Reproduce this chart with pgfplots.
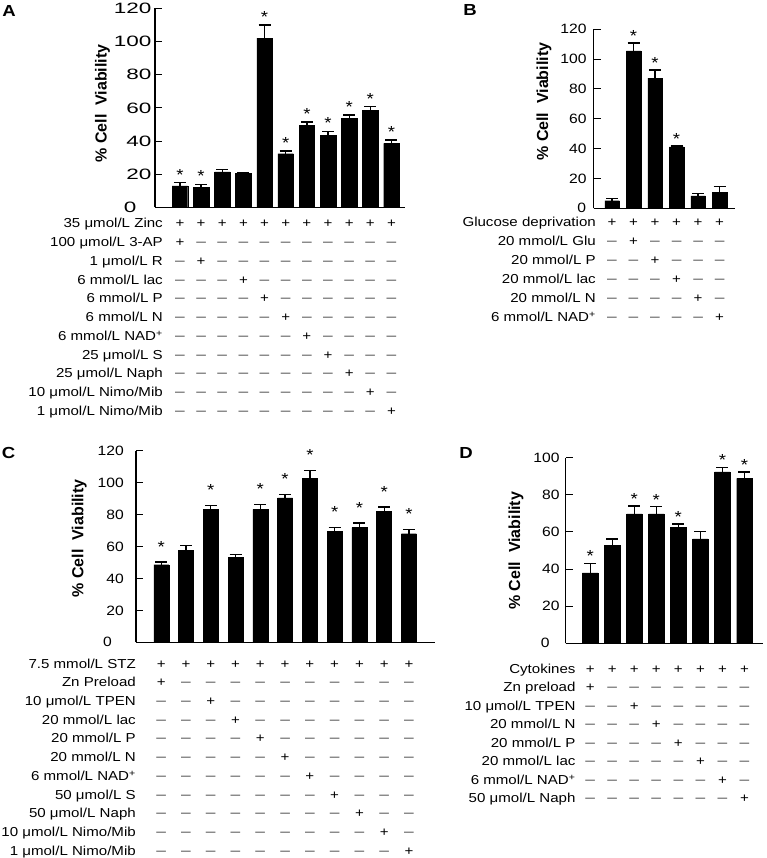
\documentclass[border=0pt]{standalone}
\usepackage{fontspec}
\setmainfont{Liberation Sans}[FakeStretch=1.16]
\newfontfamily\plainsans{Liberation Sans}
\newfontfamily\widesans{Liberation Sans}[FakeStretch=1.5]
\usepackage{pgfplots}
\pgfplotsset{compat=1.18}

\pgfplotstableread{
x y e
1 13.0 2.0
2 12.3 1.7
3 21.4 1.4
4 20.6 0.5
5 102.0 7.8
6 32.4 1.6
7 49.5 2.0
8 43.5 2.4
9 53.7 2.0
10 58.5 2.2
11 38.6 2.0
}\dataA
\pgfplotstableread{
x y e
1 5.0 1.6
2 105.5 5.2
3 87.2 5.6
4 41.1 0.7
5 8.2 1.8
6 10.7 3.7
}\dataB
\pgfplotstableread{
x y e
1 48.6 1.7
2 57.6 2.9
3 83.3 2.5
4 53.4 1.7
5 83.3 2.9
6 90.4 2.3
7 102.9 4.8
8 69.3 2.7
9 71.8 2.9
10 82.2 2.5
11 68.0 2.7
}\dataC
\pgfplotstableread{
x y e
1 38.0 5.1
2 52.6 3.7
3 69.8 4.1
4 69.8 3.8
5 62.6 1.6
6 56.2 4.1
7 92.4 2.4
8 88.8 3.6
}\dataD

\pgfplotsset{
  panel/.style={
    scale only axis, axis lines*=left,
    axis line style={-, line width=1.2pt, black},
    ymin=0, xtick=\empty, tick align=inside, major tick length=7pt,
    ytick style={line width=1.1pt, black},
    /pgf/number format/assume math mode=true,
    yticklabel style={font=\fontsize{13.5}{14}\selectfont, inner sep=0pt},
    extra y ticks={0},
    clip=false,
  },
  zeroshift/.style={extra y tick style={grid=none, yticklabel style={xshift=#1}}},
  bars/.style={ybar, fill=black, draw=black, line width=0.4pt,
    error bars/y dir=plus, error bars/y explicit,
    error bars/error bar style={line width=1.3pt, black},
    error bars/error mark options={rotate=90, mark size=6pt, line width=1.5pt, black}},
  stars/.style={draw=none, mark=none, nodes near coords={*},
    every node near coord/.style={anchor=south, inner sep=0pt, yshift=#1,
      font=\fontsize{16}{17}\selectfont}},
}

\newcommand\rowfont{\fontsize{13}{14}\selectfont}
\newcommand\m{\textcolor{black!65}{\fontsize{15}{14}\selectfont –}}
% one row of the +/- table: row index, label, column of the + (0 = all +)
\newcommand\srow[3]{%
  \pgfmathsetmacro\yy{-(\rbase+#1*\rstep)}
  \node[anchor=base east, inner sep=0pt, font=\rowfont] at (\rx pt,\yy pt) {#2};
  \coordinate (tmp) at (0,\yy pt);
  \foreach \c in {1,...,\ncol} {%
    \ifnum#3=0 \def\s{+}\else\ifnum\c=#3\relax\def\s{+}\else\def\s{\m}\fi\fi
    \node[anchor=base, inner sep=0pt, font=\rowfont] at (\rp\c |- tmp) {\s};
  }%
}
\newcommand\ylab[2]{\node[rotate=90, inner sep=0pt, font=\plainsans\bfseries\fontsize{16}{18}\selectfont]
  at (#1pt,-#2pt) {\% Cell\hspace{0.55em}Viability};}
\newcommand\plab[3]{\node[inner sep=0pt, font=\bfseries\fontsize{16}{18}\selectfont] at (#1pt,-#2pt) {#3};}

\begin{document}
\begin{tikzpicture}
\path[use as bounding box] (0,0) rectangle (766pt,-858pt);

% ---------- A ----------
\begin{axis}[panel, at={(155pt,-207.5pt)}, anchor=south west,
  width=250pt, height=199.2pt, xmin=-0.18, xmax=11.64, ymax=120,
  ytick={20,40,...,120},
  yticklabel style={font=\widesans\fontsize{15}{16}\selectfont, xshift=-3.5pt},
  zeroshift=-15pt]
\addplot[bars, bar width=15.5pt] table[x=x, y=y, y error=e] {\dataA};
\addplot[stars=2.3pt] coordinates {(1,15) (2,14) (5,109.8) (6,34) (7,51.5) (8,45.9) (9,55.7) (10,60.7) (11,40.6)};
\pgfplotsinvokeforeach{1,...,11}{\coordinate (A#1) at (axis cs:#1,0);}
\end{axis}
\plab{9}{11.5}{A}
\ylab{102.5}{103.5}
\def\rp{A}\def\rx{163}\def\rbase{228}\def\rstep{18.74}\def\ncol{11}
\srow{0}{35 μmol/L Zinc}{0}
\srow{1}{100 μmol/L 3-AP}{1}
\srow{2}{1 μmol/L R}{2}
\srow{3}{6 mmol/L lac}{4}
\srow{4}{6 mmol/L P}{5}
\srow{5}{6 mmol/L N}{6}
\srow{6}{6 mmol/L NAD\textsuperscript{+}}{7}
\srow{7}{25 μmol/L S}{8}
\srow{8}{25 μmol/L Naph}{9}
\srow{9}{10 μmol/L Nimo/Mib}{10}
\srow{10}{1 μmol/L Nimo/Mib}{11}

% ---------- B ----------
\begin{axis}[panel, at={(593.7pt,-208.2pt)}, anchor=south west,
  width=141pt, height=178.9pt, xmin=0.15, xmax=6.7, ymax=120,
  ytick={20,40,...,120}, yticklabel style={xshift=-7pt}, zeroshift=-0.5pt]
\addplot[bars, bar width=14.5pt] table[x=x, y=y, y error=e] {\dataB};
\addplot[stars=1pt] coordinates {(2,110.7) (3,92.8) (4,41.8)};
\pgfplotsinvokeforeach{1,...,6}{\coordinate (B#1) at (axis cs:#1,0);}
\end{axis}
\plab{470}{10.5}{B}
\ylab{544}{101.7}
\def\rp{B}\def\rx{596}\def\rbase{227}\def\rstep{18.88}\def\ncol{6}
\srow{0}{Glucose deprivation}{0}
\srow{1}{20 mmol/L Glu}{2}
\srow{2}{20 mmol/L P}{3}
\srow{3}{20 mmol/L lac}{4}
\srow{4}{20 mmol/L N}{5}
\srow{5}{6 mmol/L NAD\textsuperscript{+}}{6}

% ---------- C ----------
\begin{axis}[panel, at={(136pt,-642.3pt)}, anchor=south west,
  width=298.7pt, height=191.6pt, xmin=-0.02, xmax=12.04, ymax=120,
  ytick={20,40,...,120}, yticklabel style={xshift=-12pt}, zeroshift=-12pt]
\addplot[bars, bar width=15pt] table[x=x, y=y, y error=e] {\dataC};
\addplot[stars=9.7pt] coordinates {(1,50.3) (3,85.8) (5,86.2) (6,92.7) (7,107.7) (8,72) (9,74.7) (10,84.7) (11,70.7)};
\pgfplotsinvokeforeach{1,...,11}{\coordinate (C#1) at (axis cs:#1,0);}
\end{axis}
\plab{8.5}{452.5}{C}
\ylab{79.2}{538.3}
\def\rp{C}\def\rx{136}\def\rbase{668}\def\rstep{18.74}\def\ncol{11}
\srow{0}{7.5 mmol/L STZ}{0}
\srow{1}{Zn Preload}{1}
\srow{2}{10 μmol/L TPEN}{3}
\srow{3}{20 mmol/L lac}{4}
\srow{4}{20 mmol/L P}{5}
\srow{5}{20 mmol/L N}{6}
\srow{6}{6 mmol/L NAD\textsuperscript{+}}{7}
\srow{7}{50 μmol/L S}{8}
\srow{8}{50 μmol/L Naph}{9}
\srow{9}{10 μmol/L Nimo/Mib}{10}
\srow{10}{1 μmol/L Nimo/Mib}{11}

% ---------- D ----------
\begin{axis}[panel, at={(565.7pt,-643.3pt)}, anchor=south west,
  width=197.3pt, height=185.6pt, xmin=-0.11, xmax=8.84, ymax=100,
  ytick={20,40,...,100}, yticklabel style={xshift=-6pt}, zeroshift=-10pt]
\addplot[bars, bar width=15.5pt] table[x=x, y=y, y error=e] {\dataD};
\addplot[stars=1.3pt] coordinates {(1,43.1) (3,73.9) (4,73.6) (5,64.2) (7,94.8) (8,92.4)};
\pgfplotsinvokeforeach{1,...,8}{\coordinate (D#1) at (axis cs:#1,0);}
\end{axis}
\plab{466}{452.5}{D}
\ylab{516}{550.8}
\def\rp{D}\def\rx{575.7}\def\rbase{673}\def\rstep{18.57}\def\ncol{8}
\srow{0}{Cytokines}{0}
\srow{1}{Zn preload}{1}
\srow{2}{10 μmol/L TPEN}{3}
\srow{3}{20 mmol/L N}{4}
\srow{4}{20 mmol/L P}{5}
\srow{5}{20 mmol/L lac}{6}
\srow{6}{6 mmol/L NAD\textsuperscript{+}}{7}
\srow{7}{50 μmol/L Naph}{8}
\end{tikzpicture}
\end{document}
